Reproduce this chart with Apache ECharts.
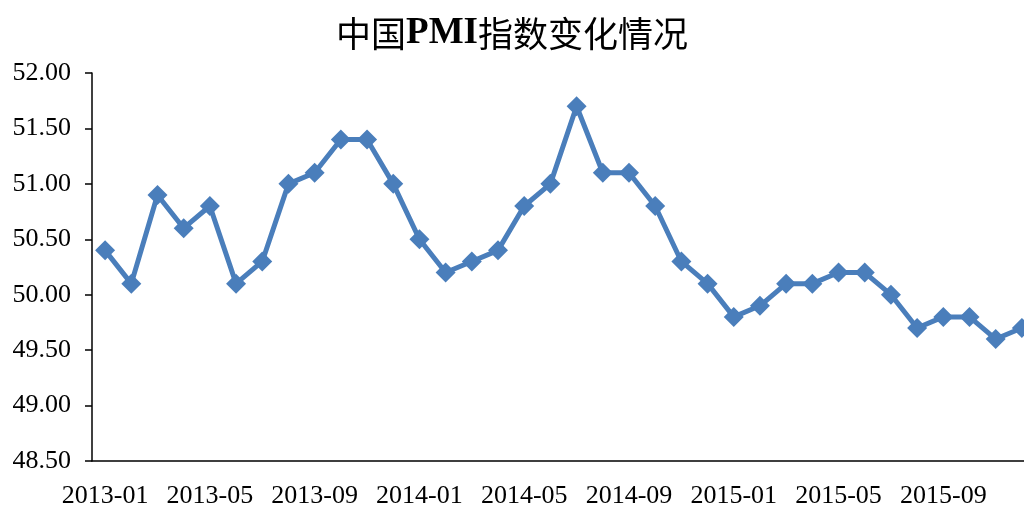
<!DOCTYPE html>
<html>
<head>
<meta charset="utf-8">
<script src="https://cdn.jsdelivr.net/npm/echarts@6/dist/echarts.min.js"></script>
<style>
  html, body { margin: 0; padding: 0; background: #fff; }
  #main { width: 1024px; height: 510px; }
</style>
</head>
<body>
<div id="main"></div>
<script>
// 月份
var months = [
  '2013-01','2013-02','2013-03','2013-04','2013-05','2013-06',
  '2013-07','2013-08','2013-09','2013-10','2013-11','2013-12',
  '2014-01','2014-02','2014-03','2014-04','2014-05','2014-06',
  '2014-07','2014-08','2014-09','2014-10','2014-11','2014-12',
  '2015-01','2015-02','2015-03','2015-04','2015-05','2015-06',
  '2015-07','2015-08','2015-09','2015-10','2015-11','2015-12'
];
// PMI
var pmiValues = [
  50.4, 50.1, 50.9, 50.6, 50.8, 50.1, 50.3, 51.0, 51.1, 51.4, 51.4, 51.0,
  50.5, 50.2, 50.3, 50.4, 50.8, 51.0, 51.7, 51.1, 51.1, 50.8, 50.3, 50.1,
  49.8, 49.9, 50.1, 50.1, 50.2, 50.2, 50.0, 49.7, 49.8, 49.8, 49.6, 49.7
];
var titleParts = ['中国', 'PMI', '指数变化情况'];

var serif = '"Liberation Serif", "Noto Sans CJK SC", serif';
var cjk = '"Noto Sans CJK SC", sans-serif';
var myChart = echarts.init(document.getElementById('main'));
var option = {
  animation: false,
  title: {
    text: '{c|' + titleParts[0] + '}{p|' + titleParts[1] + '}{c|' + titleParts[2] + '}',
    left: 'center',
    top: 10,
    textStyle: {
      rich: {
        c: { fontFamily: cjk, fontSize: 35, fontWeight: 'normal', color: '#000' },
        p: { fontFamily: serif, fontSize: 37, fontWeight: 'bold', color: '#000' }
      }
    }
  },
  grid: {
    left: 92, top: 73, bottom: 49, right: -11,
    containLabel: false,
    outerBoundsMode: 'none'
  },
  xAxis: {
    type: 'category',
    data: months,
    boundaryGap: true,
    axisLine: { lineStyle: { color: '#000', width: 1.5 } },
    axisTick: { interval: 3, length: 7, lineStyle: { color: '#000', width: 1.5 } },
    axisLabel: { interval: 3, color: '#000', fontFamily: serif, fontSize: 26, margin: 22 },
    splitLine: { show: false }
  },
  yAxis: {
    type: 'value',
    min: 48.5,
    max: 52,
    interval: 0.5,
    axisLine: { show: true, lineStyle: { color: '#000', width: 1.5 } },
    axisTick: { show: true, length: 7, lineStyle: { color: '#000', width: 1.5 } },
    axisLabel: {
      color: '#000', fontFamily: serif, fontSize: 26, margin: 21,
      formatter: function (v) { return v.toFixed(2); }
    },
    splitLine: { show: false }
  },
  series: [{
    type: 'line',
    data: pmiValues,
    symbol: 'diamond',
    symbolSize: 20,
    showAllSymbol: true,
    lineStyle: { color: '#4a7ebb', width: 5 },
    itemStyle: { color: '#4a7ebb' }
  }]
};
myChart.setOption(option);
</script>
</body>
</html>
